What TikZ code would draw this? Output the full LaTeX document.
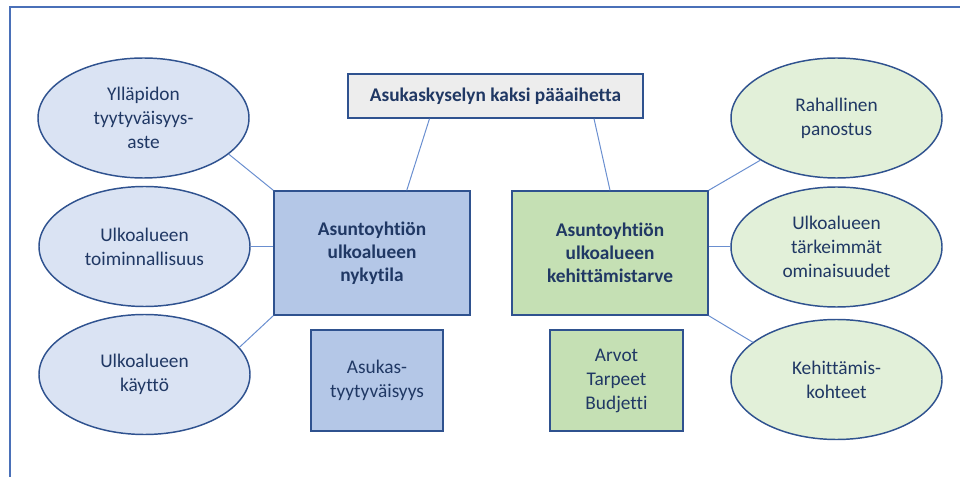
\documentclass[tikz,border=0pt]{standalone}
\usepackage{fontspec}
\setmainfont[Ligatures={NoCommon}]{Carlito}
\usetikzlibrary{shapes.geometric}
\definecolor{frameblue}{HTML}{4A70B8}
\definecolor{shapeline}{HTML}{2F528F}
\definecolor{linkblue}{HTML}{6A8FD0}
\definecolor{txt}{HTML}{203864}
\definecolor{ellblue}{HTML}{DAE3F3}
\definecolor{ellgreen}{HTML}{E2F0D9}
\definecolor{boxblue}{HTML}{B4C7E7}
\definecolor{boxgreen}{HTML}{C5E0B4}
\definecolor{titlegray}{HTML}{EDEDED}
\tikzset{
  base/.style={draw=shapeline, line width=1.1pt, text=txt, align=center, inner sep=1pt,
    font=\fontsize{14.5}{18}\selectfont},
  oval/.style={base, ellipse, minimum width=158.25pt, minimum height=90pt},
  ovalL/.style={oval, fill=ellblue},
  ovalR/.style={oval, fill=ellgreen},
  mainbox/.style={base, rectangle, minimum width=147pt, minimum height=93pt,
    font=\fontsize{14.5}{17.3}\selectfont\bfseries},
  smallbox/.style={base, rectangle, minimum width=99pt, minimum height=75.75pt},
  link/.style={draw=linkblue, line width=0.75pt},
}
\begin{document}
\begin{tikzpicture}[x=0.75pt,y=-0.75pt]
\useasboundingbox (0,0) rectangle (960,477);
\clip (0,0) rectangle (960,477);
\draw[frameblue, line width=1.4pt] (10,490) -- (10,7) -- (975,7);

\node[base, rectangle, fill=titlegray, minimum width=221.25pt, minimum height=33pt,
  font=\fontsize{14.5}{18}\selectfont\bfseries] (title) at (495.5,96) {Asukaskyselyn kaksi pääaihetta};

\node[mainbox, fill=boxblue] (nyky) at (372,253) {Asuntoyhtiön\\ulkoalueen\\nykytila};
\node[mainbox, fill=boxgreen] (keh) at (610,253) {Asuntoyhtiön\\ulkoalueen\\kehittämistarve};

\node[smallbox, fill=boxblue] (tyyt) at (377,380.5) {Asukas-\\tyytyväisyys};
\node[smallbox, fill=boxgreen, minimum width=99.75pt] (arvot) at (616.5,380.5) {Arvot\\Tarpeet\\Budjetti};

\node[ovalL] (l1) at (143.5,118) {Ylläpidon\\tyytyväisyys-\\aste};
\node[ovalL] (l2) at (144.5,246.5) {Ulkoalueen\\toiminnallisuus};
\node[ovalL] (l3) at (144.5,374.5) {Ulkoalueen\\käyttö};

\node[ovalR] (r1) at (836.5,118) {Rahallinen\\panostus};
\node[ovalR] (r2) at (836.5,247) {Ulkoalueen\\tärkeimmät\\ominaisuudet};
\node[ovalR] (r3) at (836.5,379.5) {Kehittämis-\\kohteet};

\draw[link] (title.199.4) -- (nyky.61.3);
\draw[link] (title.-13.1) -- (keh.north);
\draw[link] (l1.-23.5) -- (nyky.north west);
\draw[link] (l2.east) -- (l2.east -| nyky.west);
\draw[link] (l3.16) -- (nyky.south west);
\draw[link] (r1.209.3) -- (keh.north east);
\draw[link] (r2.west) -- (r2.west -| keh.east);
\draw[link] (r3.156) -- (keh.south east);
\end{tikzpicture}
\end{document}
